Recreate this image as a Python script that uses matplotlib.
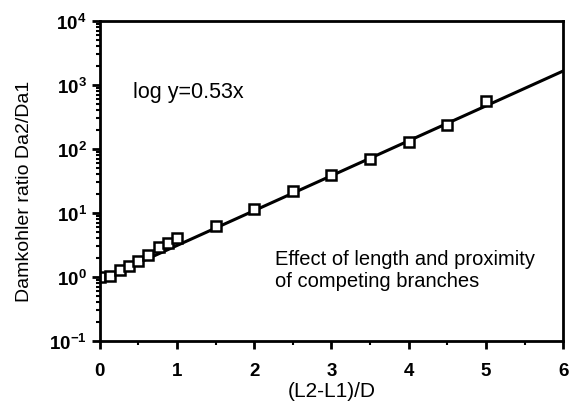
import numpy as np
import matplotlib
matplotlib.use("Agg")
import matplotlib.pyplot as plt
from matplotlib.ticker import LogLocator, MultipleLocator

# datos
dist = [0, 0.13, 0.26, 0.38, 0.49, 0.625, 0.77, 0.885, 1.0, 1.5, 2.0, 2.5, 3.0, 3.5, 4.0, 4.5, 5.0]
ratio = [1.0, 1.05, 1.3, 1.5, 1.75, 2.2, 2.9, 3.4, 4.0, 6.3, 11.5, 22, 39, 70, 126, 240, 560]

# recta ajustada: log y = 0.53x
fit_x = [0, 6]
fit_y = [0.88, 1650]

plt.rcParams['font.family'] = ['Liberation Sans', 'DejaVu Sans']

fig = plt.figure(figsize=(5.7, 4.06), dpi=100)
ax = fig.add_axes([0.175, 0.158, 0.813, 0.788])

ax.plot(fit_x, fit_y, 'k-', lw=2.2)
ax.plot(dist, ratio, 's', ms=6.5, mfc='white', mec='k', mew=1.8)

ax.set_yscale('log')
ax.set_xlim(0, 6)
ax.set_ylim(1e-1, 1e4)
ax.xaxis.set_major_locator(MultipleLocator(1))
ax.xaxis.set_minor_locator(MultipleLocator(0.5))
ax.yaxis.set_major_locator(LogLocator(base=10, numticks=10))
ax.yaxis.set_minor_locator(LogLocator(base=10, subs=np.arange(2, 10), numticks=10))

for s in ax.spines.values():
    s.set_linewidth(2)
ax.tick_params(which='major', direction='out', length=6, width=2, labelsize=13.5, top=False, right=False)
ax.tick_params(axis='x', which='major', pad=9)
ax.tick_params(which='minor', direction='out', length=3, width=1.5, top=False, right=False)
for lbl in ax.get_xticklabels() + ax.get_yticklabels():
    lbl.set_fontweight('bold')

ax.set_xlabel('(L2-L1)/D', fontsize=15, labelpad=2)
ax.set_ylabel('Damkohler ratio Da2/Da1', fontsize=14)
ax.yaxis.set_label_coords(-0.145, 0.47)

ax.text(0.43, 780, 'log y=0.53x', fontsize=15.5, va='center')
ax.text(2.27, 1.31, 'Effect of length and proximity\nof competing branches',
        fontsize=14.5, va='center', linespacing=1.2)

fig.savefig('out.png', dpi=100)
